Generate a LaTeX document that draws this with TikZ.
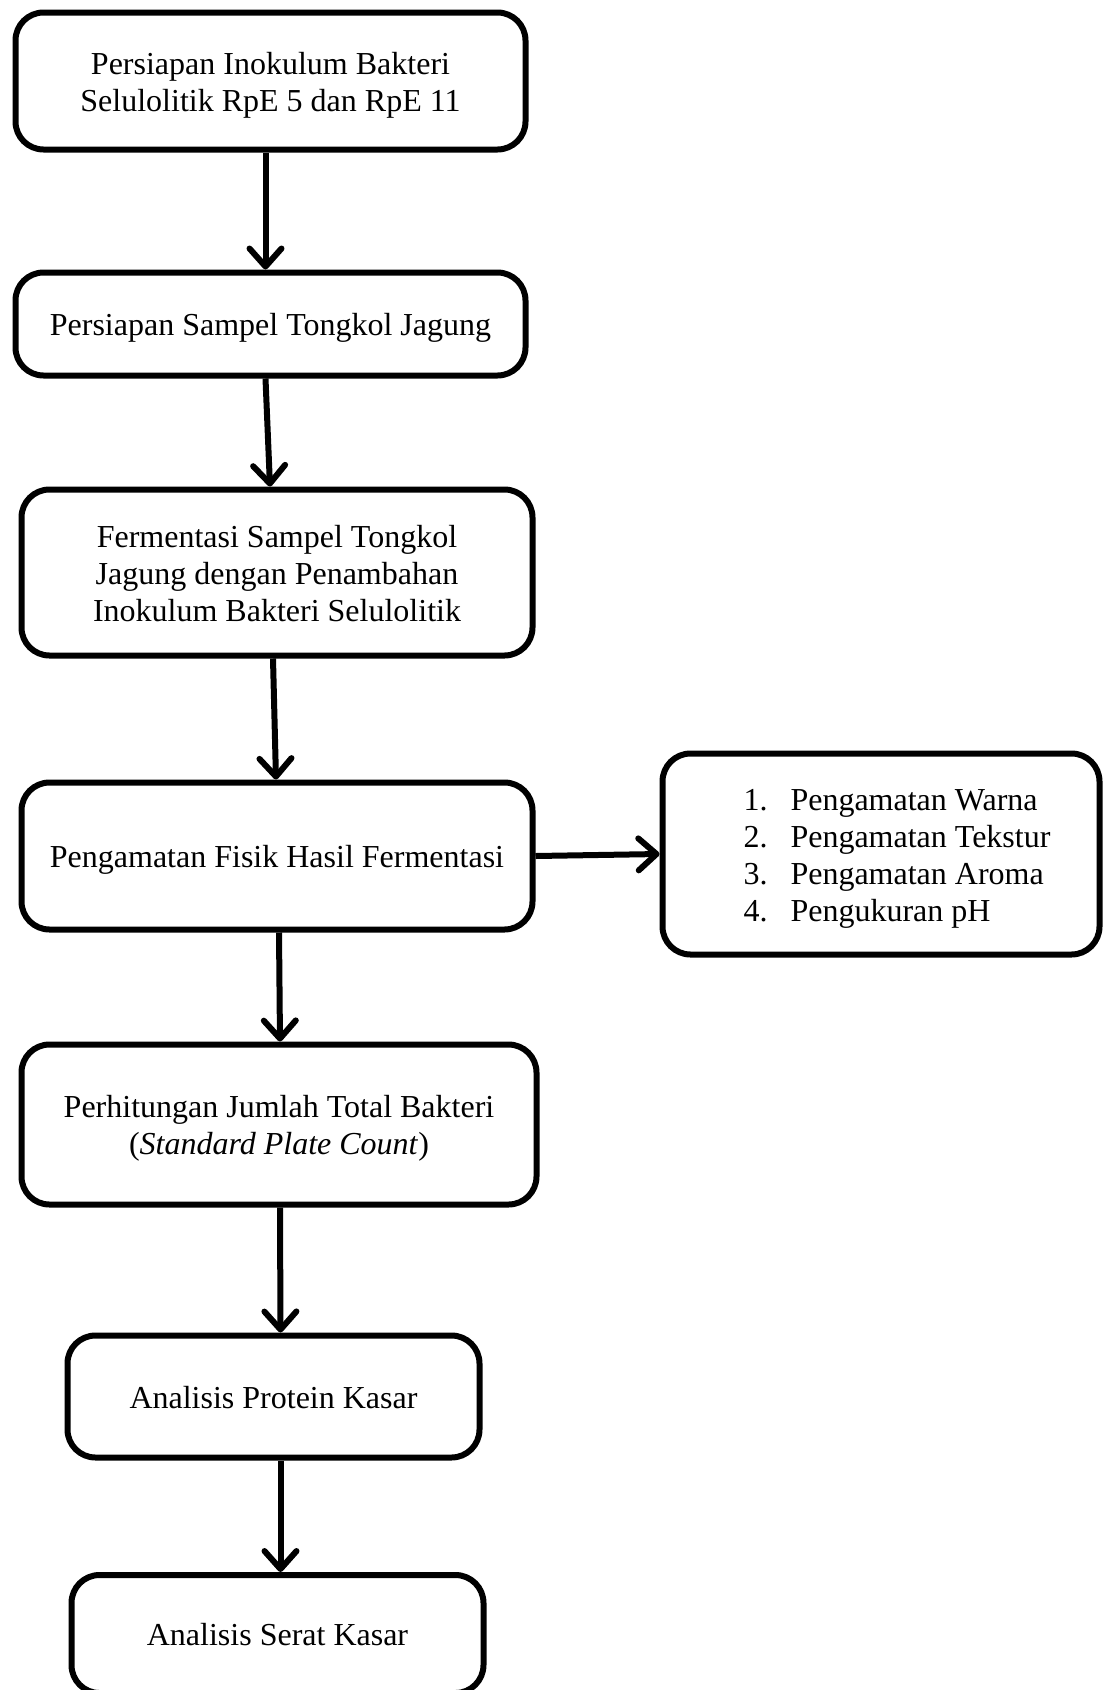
\documentclass[tikz,border=0pt]{standalone}
\usepackage{fontspec}
\setmainfont{Liberation Serif}
\usetikzlibrary{arrows.meta,calc}
% box text: strutted rows, set a little below the box centre
\newcommand\boxtext[2][c]{\raisebox{-4.5pt}[\height][\depth]{%
  \begin{tabular}{@{}#1@{}}#2\end{tabular}}}
\newcommand\itemno[1]{\makebox[47pt][l]{#1.}}
\begin{document}
\begin{tikzpicture}[x=1pt,y=-1pt,
  stepbox/.style={draw, line width=6pt, rounded corners=28pt, inner sep=0pt,
    font=\fontsize{32}{36.8}\selectfont},
  arr/.style={line width=6pt, -{Straight Barb[length=18pt,width=32pt,round]}}]
\useasboundingbox (0,0) rectangle (1105,1690);

% process boxes
\node[stepbox, minimum width=510, minimum height=137] (b1) at (270.5,81)
  {\boxtext{Persiapan Inokulum Bakteri\\Selulolitik RpE 5 dan RpE 11}};
\node[stepbox, minimum width=510, minimum height=103] (b2) at (270.5,324)
  {\boxtext{Persiapan Sampel Tongkol Jagung}};
\node[stepbox, minimum width=511, minimum height=166] (b3) at (277,572.5)
  {\boxtext{Fermentasi Sampel Tongkol\\Jagung dengan Penambahan\\Inokulum Bakteri Selulolitik}};
\node[stepbox, minimum width=511, minimum height=147] (b4) at (277,856)
  {\boxtext{Pengamatan Fisik Hasil Fermentasi}};
\node[stepbox, minimum width=437, minimum height=201] (b5) at (881,854)
  {\hspace*{32pt}\boxtext[l]{\itemno{1}Pengamatan Warna\\
   \itemno{2}Pengamatan Tekstur\\
   \itemno{3}Pengamatan Aroma\\
   \itemno{4}Pengukuran pH}};
\node[stepbox, minimum width=515, minimum height=160] (b6) at (279,1124.5)
  {\boxtext{Perhitungan Jumlah Total Bakteri\\(\textit{Standard Plate Count})}};
\node[stepbox, minimum width=412, minimum height=122] (b7) at (273.5,1396.5)
  {\boxtext{Analisis Protein Kasar}};
% the last box runs on past the lower edge of the page
\node[stepbox, minimum width=412, minimum height=118] (b8) at (277.5,1634)
  {\boxtext{Analisis Serat Kasar}};

% connectors
\draw[arr] ([xshift=-5]b1.south) -- ([xshift=-5]b2.north);
\draw[arr] ([xshift=-5]b2.south) -- ([xshift=-7]b3.north);
\draw[arr] ([xshift=-4]b3.south) -- ([xshift=-1]b4.north);
\draw[arr] (b4.east) -- (b5.west);
\draw[arr] ([xshift=2]b4.south) -- ([xshift=1]b6.north);
\draw[arr] ([xshift=1]b6.south) -- ([xshift=7]b7.north);
\draw[arr] ([xshift=7]b7.south) -- ([xshift=3]b8.north);
\end{tikzpicture}
\end{document}
